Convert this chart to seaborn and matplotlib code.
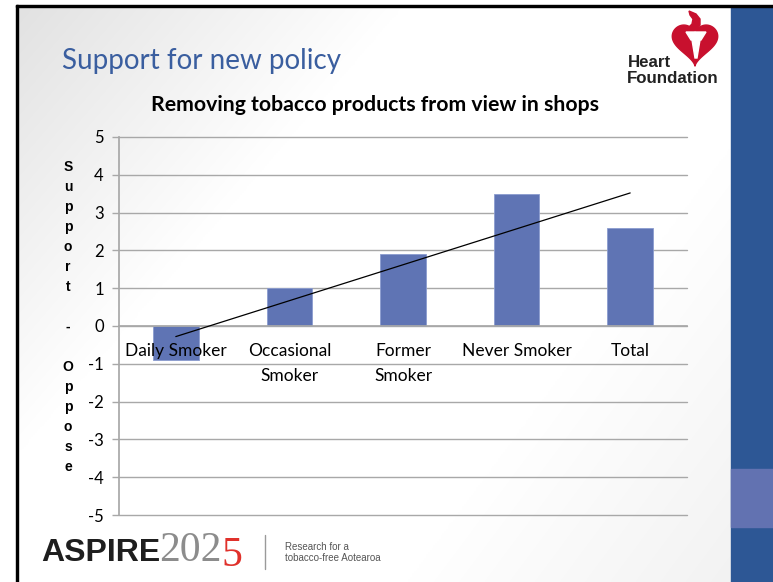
import numpy as np
import matplotlib
matplotlib.use("Agg")
import matplotlib.pyplot as plt
import seaborn as sns
from matplotlib.patches import Rectangle, Polygon

# ---- data -------------------------------------------------------------
categories = ["Daily Smoker", "Occasional\nSmoker", "Former\nSmoker",
              "Never Smoker", "Total"]
scores = [-0.9, 1.0, 1.9, 3.5, 2.6]
y_ticks = list(range(-5, 6))

slide_title = "Support for new policy"
chart_title = "Removing tobacco products from view in shops"
axis_label = "Support - Oppose"

# ---- figure -----------------------------------------------------------
W, H, DPI = 773, 582, 100
sns.set_theme(style="white")
plt.rcParams["font.family"] = ["Lato", "DejaVu Sans"]
ARIAL = ["Liberation Sans", "DejaVu Sans"]
SERIF = ["Liberation Serif", "DejaVu Serif"]
NARROW = ["Liberation Sans Narrow", "Liberation Sans", "DejaVu Sans"]

fig = plt.figure(figsize=(W / DPI, H / DPI), dpi=DPI)
fig.patch.set_facecolor("white")

# background layer in pixel coordinates (origin top-left)
bg = fig.add_axes([0, 0, 1, 1], zorder=0)
bg.set_xlim(0, W)
bg.set_ylim(H, 0)
bg.axis("off")

# soft grey-to-white slide gradient
yy, xx = np.mgrid[0:1:300j, 0:1:400j]
g = 0.885 + 0.115 * np.clip((xx * 1.3 + yy * 0.9) / 0.7, 0, 1)
g -= 0.05 * np.clip((xx * 1.0 + yy * 0.6 - 1.15) / 0.45, 0, 1)
bg.imshow(np.dstack([g, g, g]), extent=(16, 731, 582, 6), aspect="auto",
          interpolation="bilinear", zorder=0)

# frame lines and side panel
bg.add_patch(Rectangle((16, 4.5), W - 16, 2.5, color="black", zorder=2))
bg.add_patch(Rectangle((15.5, 4.5), 2.5, H, color="black", zorder=2))
bg.add_patch(Rectangle((731, 7), W - 731, H, color="#2D5795", zorder=1))
bg.add_patch(Rectangle((731, 469), W - 731, 58, color="#6272B1", zorder=1))

# slide heading
bg.text(62, 61, slide_title, fontsize=20, fontweight="normal",
        color="#3A5E9F", ha="left", va="center")

# Heart Foundation mark
red = "#C8102E"
bg.add_patch(Rectangle((627, 10), 100, 78, color="white", zorder=1))
t = np.linspace(0, 2 * np.pi, 300)
hx = 16 * np.sin(t) ** 3
hy = 13 * np.cos(t) - 5 * np.cos(2 * t) - 2 * np.cos(3 * t) - np.cos(4 * t)
bg.add_patch(Polygon(np.column_stack([695 + hx * 1.42, 42 - hy * 1.42]),
                     closed=True, color=red, zorder=3))
bg.add_patch(Polygon([(689, 11), (696, 14), (700, 19), (700, 25), (697, 30),
                      (692, 31), (688, 28), (692, 24), (693, 19), (690, 15)],
                     closed=True, color=red, zorder=3))
bg.add_patch(Polygon([(686, 32), (706, 32), (701, 40), (691, 40)],
                     closed=True, color="white", zorder=4))
bg.add_patch(Polygon([(692, 40), (700, 40), (697, 58), (695, 58)],
                     closed=True, color="white", zorder=4))
bg.text(628, 67, "Heart", fontsize=12.2, fontweight="bold", family=ARIAL,
        color="#222222", ha="left", va="baseline", zorder=5)
bg.text(627, 83, "Foundation", fontsize=12.2, fontweight="bold",
        family=ARIAL, color="#222222", ha="left", va="baseline", zorder=5)

# ASPIRE2025 mark
bg.add_patch(Rectangle((29, 531), 245, 42, color="white", zorder=1))
bg.text(41, 561, "ASPIRE", fontsize=23, fontweight="bold", family=ARIAL,
        color="#1E1E1E", ha="left", va="baseline", zorder=5)
bg.text(159, 561, "202", fontsize=30, family=SERIF, color="#8C8C8C",
        ha="left", va="baseline", zorder=5)
bg.text(221, 566, "5", fontsize=30, family=SERIF, color="#E0312B",
        ha="left", va="baseline", zorder=5)
bg.plot([265, 265], [535, 569], color="#9A9A9A", lw=1, zorder=5)
bg.text(285, 547, "Research for a", fontsize=7, family=NARROW,
        color="#555555", ha="left", va="center", zorder=5)
bg.text(285, 558, "tobacco-free Aotearoa", fontsize=7, family=NARROW,
        color="#555555", ha="left", va="center", zorder=5)

# chart title and stacked axis label
bg.text(375, 105, chart_title, fontsize=15.3, fontweight="bold",
        color="black", ha="center", va="center", zorder=5)
bg.text(68, 317, "\n".join(axis_label), fontsize=10, fontweight="bold",
        family=ARIAL, color="black", ha="center", va="center",
        linespacing=1.54, zorder=5)

# ---- chart ------------------------------------------------------------
ax = fig.add_axes([119 / W, 1 - 515 / H, (687 - 119) / W, (515 - 137) / H],
                  zorder=2)
ax.patch.set_alpha(0)

grid_grey = "#A8A8A8"
# horizontal guide lines sit under the bars; the axis (labels) sits above
for v in y_ticks:
    ax.axhline(v, color=grid_grey, lw=1, zorder=0.5, clip_on=False)

sns.barplot(x=categories, y=scores, color="#5F74B4", saturation=1,
            width=0.4, edgecolor="#8B9CCF", linewidth=0.6, ax=ax)
for bar in ax.patches:
    bar.set_zorder(1.5)
sns.regplot(x=np.arange(len(scores)), y=scores, scatter=False, ci=None,
            truncate=True, ax=ax,
            line_kws=dict(color="black", lw=0.9, zorder=4))

ax.set_axisbelow(False)
ax.grid(False)
ax.set_xlim(-0.5, len(categories) - 0.5)
ax.set_ylim(-5, 5)
ax.set_yticks(y_ticks)
ax.set_yticklabels([str(v) for v in y_ticks])
ax.set_xlabel("")
ax.set_ylabel("")

for side in ("top", "right"):
    ax.spines[side].set_visible(False)
ax.spines["left"].set_color(grid_grey)
ax.spines["bottom"].set_color(grid_grey)
ax.spines["bottom"].set_position(("data", 0))

ax.set_xticks(np.arange(len(categories)))
ax.set_xticklabels(categories)
ax.set_xticks(np.arange(-0.5, len(categories)), minor=True)
ax.tick_params(axis="x", which="major", length=0, pad=12, labelsize=12.5,
               labelcolor="black")
ax.tick_params(axis="x", which="minor", length=5, width=1,
               color=grid_grey, direction="out")
ax.tick_params(axis="y", length=5, width=1, color=grid_grey,
               direction="out", pad=6, labelsize=12, labelcolor="black",
               left=True)
for lab in ax.get_xticklabels():
    lab.set_linespacing(1.7)

fig.savefig("out.png", dpi=DPI)
